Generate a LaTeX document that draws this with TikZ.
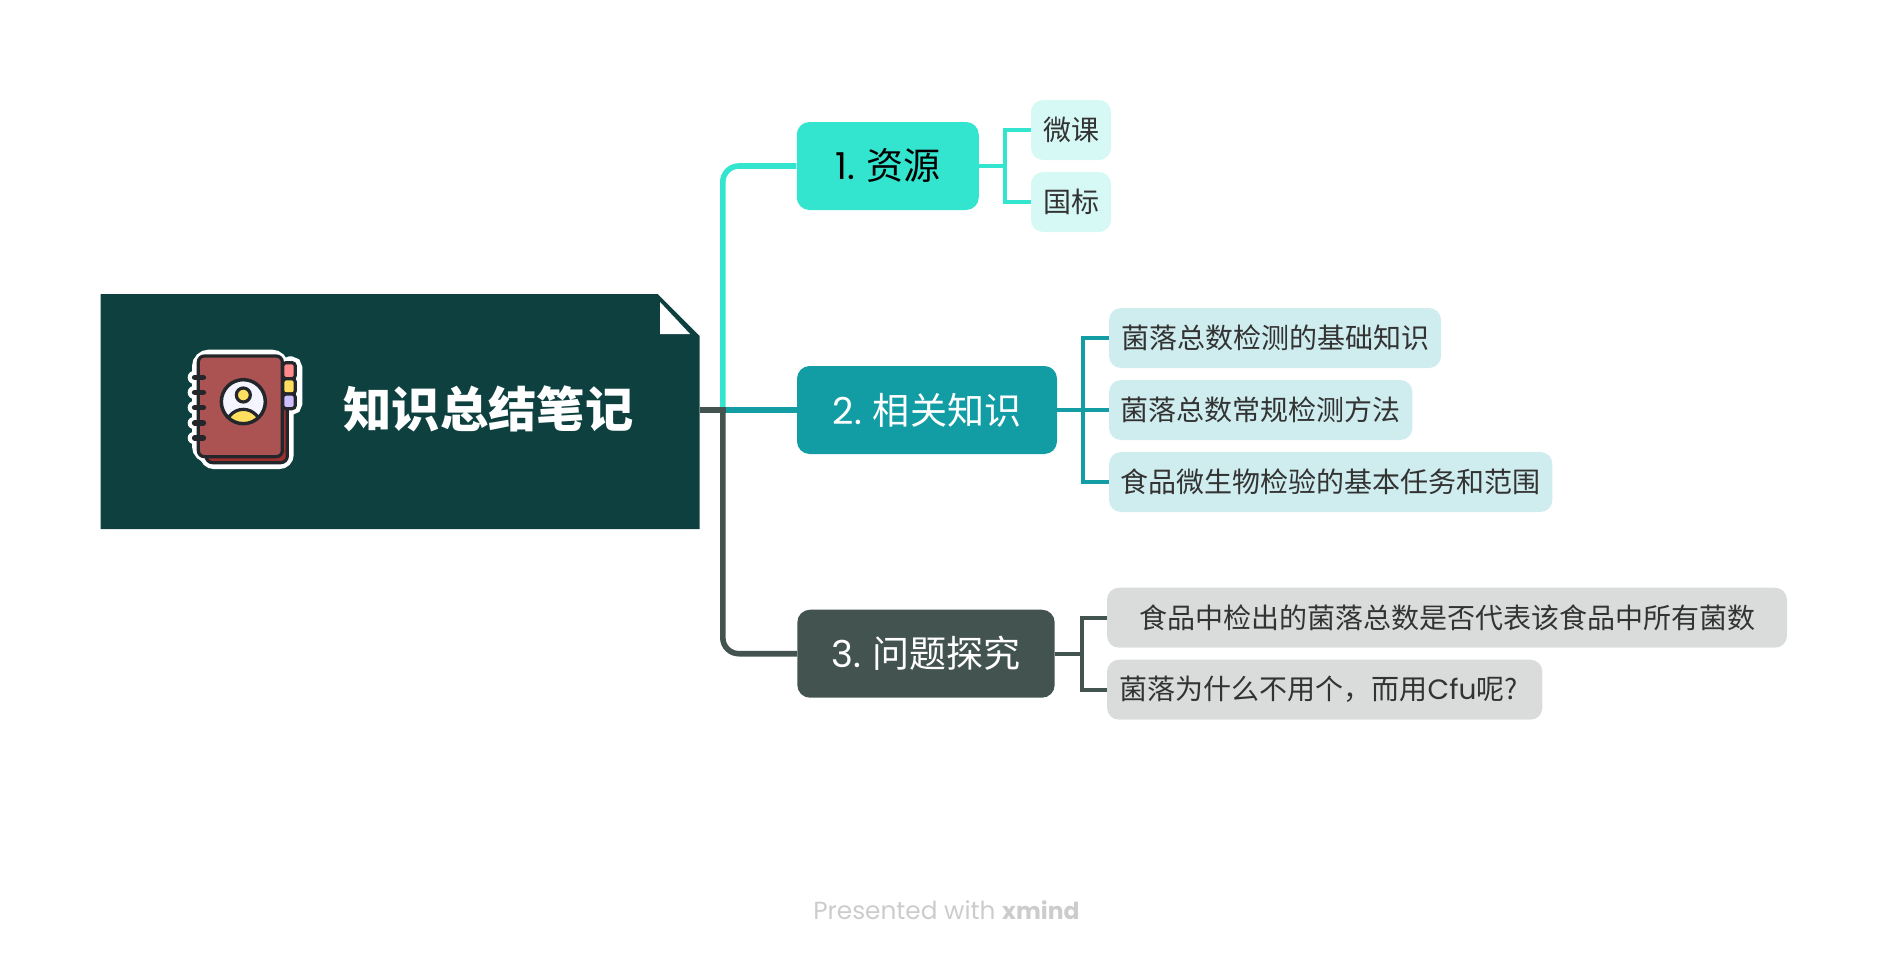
\documentclass[tikz,border=0pt]{standalone}
\usepackage{fontspec}
\setmainfont{Noto Sans CJK SC}
\newfontfamily\latinf{Poppins}
\definecolor{rootc}{HTML}{0F4040}
\definecolor{ta}{HTML}{33E5CF}
\definecolor{tb}{HTML}{129CA3}
\definecolor{tc}{HTML}{43534F}
\definecolor{sa}{HTML}{D6F9F5}
\definecolor{sb}{HTML}{CFECEE}
\definecolor{sc}{HTML}{DADCDB}
\definecolor{ink}{HTML}{23272B}
\definecolor{cover}{HTML}{AB5353}
\definecolor{backc}{HTML}{9E3030}
\definecolor{yel}{HTML}{FFDF60}
\definecolor{pinkt}{HTML}{FF8A8A}
\definecolor{lav}{HTML}{CDBEFF}
\tikzset{
 topicbox/.style={rounded corners=9.5pt,minimum height=66pt,inner sep=0pt,font=\fontsize{27.8}{30}\selectfont},
 subbox/.style={rounded corners=9pt,minimum height=45pt,inner sep=0pt,text=black!80,font=\fontsize{21}{24}\selectfont},
 conn/.style={line width=4.2pt},
 sconn/.style={line width=3pt},
}
\begin{document}
\begin{tikzpicture}[x=0.75pt,y=-0.75pt]
\useasboundingbox (0,0) rectangle (1888,960);
% root
\path[fill=rootc] (100.5,294) -- (657.5,294) -- (699.6,336) -- (699.6,529) -- (100.5,529) -- cycle;
\fill[white] (660,302) -- (660,334) -- (690,334) -- cycle;
\node[inner sep=0pt,text=white,font=\bfseries\fontsize{36.2}{40}\selectfont] (root) at (488.5,409) {知识总结笔记};
% icon
\begin{scope}[shift={(170,340)},x=0.25pt,y=-0.25pt]
 % white halo
 \begin{scope}[draw=white,fill=white,line width=9.5pt]
  \draw[rounded corners=8pt] (85,48) rectangle (337,350);
  \draw[rounded corners=6pt] (108,90) rectangle (352,368);
  \draw[rounded corners=4pt] (345,68) rectangle (378,206);
  \foreach \yy in {112,157,203,249,294} \draw[line cap=round] (72,\yy) -- (100,\yy);
 \end{scope}
 % back page
 \draw[ink,fill=backc,line width=2.4pt,rounded corners=5pt] (108,100) rectangle (352,368);
 % tabs
 \draw[ink,fill=pinkt,line width=2.4pt,rounded corners=2.5pt] (338,68) rectangle (376,116);
 \draw[ink,fill=yel,line width=2.4pt,rounded corners=2.5pt] (338,116) rectangle (376,162);
 \draw[ink,fill=lav,line width=2.4pt,rounded corners=2.5pt] (338,162) rectangle (376,206);
 % cover
 \draw[ink,fill=cover,line width=2.4pt,rounded corners=4.5pt] (85,48) rectangle (337,350);
 % spiral
 \foreach \yy in {112,157,203,249,294} \draw[ink,line width=4.2pt,line cap=round] (74,\yy) -- (100,\yy);
 % portrait
 \fill[white!96!blue] (220,185) circle[radius=66];
 \begin{scope}
  \clip (220,185) circle[radius=66];
  \fill[yel] (220,270) ellipse[x radius=56,y radius=62];
  \draw[ink,line width=2.4pt] (220,270) ellipse[x radius=56,y radius=62];
 \end{scope}
 \draw[ink,fill=yel,line width=2.4pt] (220,165) circle[radius=21];
 \draw[ink,line width=2.6pt] (220,185) circle[radius=66];
\end{scope}
% topics
\node[topicbox,fill=ta,text=black,minimum width=136.5pt] (t1) at (887.75,166) {{\latinf 1.} 资源};
\node[topicbox,fill=tb,text=white,minimum width=195pt] (t2) at (927,410) {{\latinf 2.} 相关知识};
\node[topicbox,fill=tc,text=white,minimum width=193pt] (t3) at (926,653.7) {{\latinf 3.} 问题探究};
% subs
\node[subbox,fill=sa,minimum width=60pt] (a1) at (1071,130) {微课};
\node[subbox,fill=sa,minimum width=60pt] (a2) at (1071,202) {国标};
\node[subbox,fill=sb,minimum width=249pt] (b1) at (1275,338) {菌落总数检测的基础知识};
\node[subbox,fill=sb,minimum width=227.5pt] (b2) at (1260.7,410) {菌落总数常规检测方法};
\node[subbox,fill=sb,minimum width=332.5pt] (b3) at (1330.7,482) {食品微生物检验的基本任务和范围};
\node[subbox,fill=sc,minimum width=510pt] (c1) at (1447,617.7) {食品中检出的菌落总数是否代表该食品中所有菌数};
\node[subbox,fill=sc,minimum width=326.5pt] (c2) at (1324.7,689.7) {菌落为什么不用个，而用{\latinf Cfu}呢?\kern9pt};
% trunk
\coordinate (tr) at (722.8,410);
\draw[conn,ta,rounded corners=12pt] (tr) -- (722.8,166) -- (t1.west);
\draw[conn,tc,rounded corners=12pt] (tr) -- (722.8,653.7) -- (t3.west);
\draw[conn,tb] (tr) -- (t2.west);
\coordinate (rs) at (699.6,410);
\coordinate (re) at (725.7,410);
\draw[conn,tc] (rs) -- (re);
% branches
\coordinate (ja) at (1004.5,166);
\draw[sconn,ta] (t1.east) -- (ja);
\draw[sconn,ta] (a1.west) -- (ja |- a1.west) -- (ja |- a2.west) -- (a2.west);
\coordinate (jb) at (1083,410);
\draw[sconn,tb] (t2.east) -- (b2.west);
\draw[sconn,tb] (b1.west) -- (jb |- b1.west) -- (jb |- b3.west) -- (b3.west);
\coordinate (jc) at (1081.7,653.7);
\draw[sconn,tc] (t3.east) -- (jc);
\draw[sconn,tc] (c1.west) -- (jc |- c1.west) -- (jc |- c2.west) -- (c2.west);
% footer
\node[anchor=base west,inner sep=0pt,text=black!20,font=\latinf\fontsize{18.6}{22}\selectfont] (ft) at (813,919) {Presented with {\fontsize{17.6}{22}\selectfont\textbf{xmind}}};
\end{tikzpicture}
\end{document}
